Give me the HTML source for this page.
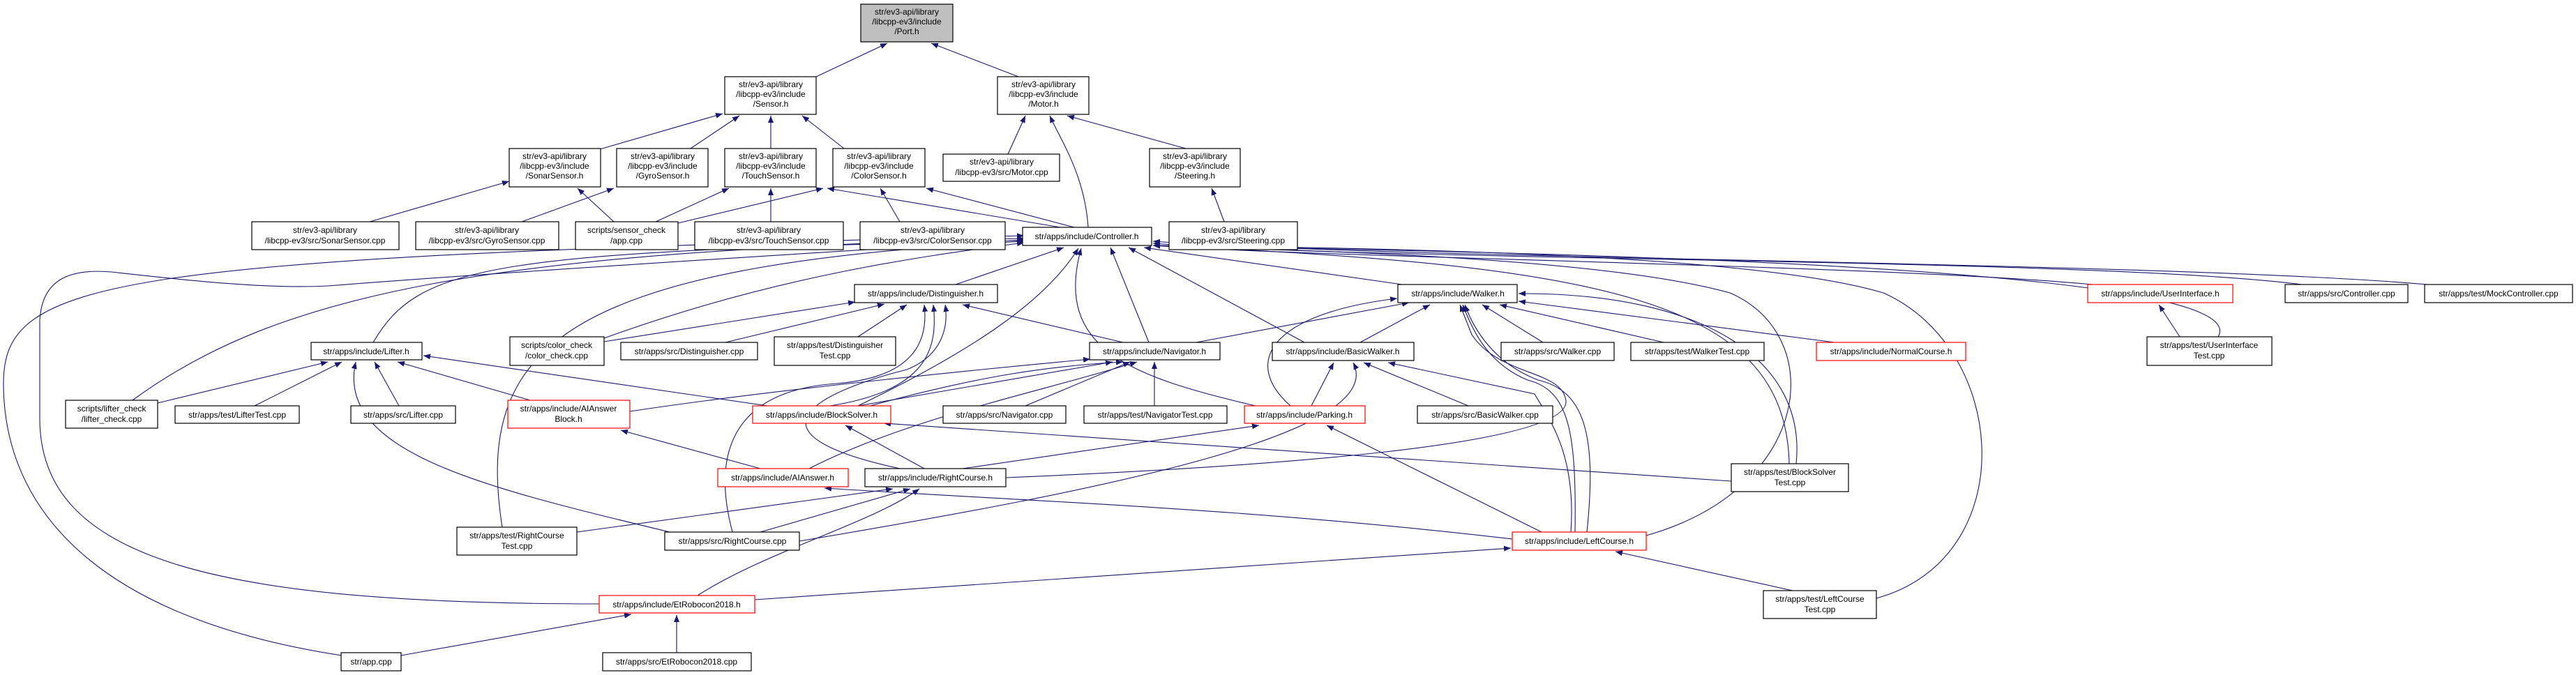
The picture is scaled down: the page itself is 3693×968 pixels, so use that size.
<!DOCTYPE html>
<html><head><meta charset="utf-8"><style>
html,body{margin:0;padding:0;background:#fff;}
svg{display:block}
text{font-family:"Liberation Sans",sans-serif;font-size:12px;fill:#000;text-anchor:middle}
.b{fill:#fff;stroke:#000;stroke-width:1.2}
.r{fill:#fff;stroke:#ff0000;stroke-width:1.2}
.g{fill:#bfbfbf;stroke:#000;stroke-width:1.2}
path.e{fill:none;stroke:#191970;stroke-width:1.1;marker-end:url(#a)}
</style></head><body>
<svg width="3693" height="968" viewBox="0 0 3693 968" xmlns="http://www.w3.org/2000/svg">
<defs><marker id="a" markerUnits="userSpaceOnUse" markerWidth="11" markerHeight="8" refX="10" refY="4" orient="auto"><path d="M0,0 L10,4 L0,8 z" fill="#191970"/></marker></defs>

<g>
<path class="e" d="M1170,110 L1272,62"/>
<path class="e" d="M1460,110 L1335,62"/>
<path class="e" d="M860,214 L1036,163"/>
<path class="e" d="M990,213 L1060,166"/>
<path class="e" d="M1105,213 L1105,166"/>
<path class="e" d="M1210,213 L1150,166"/>
<path class="e" d="M1445,221 L1470,166"/>
<path class="e" d="M1700,213 L1530,166"/>
<path class="e" d="M1560,326 C1555,250 1520,200 1505,166"/>
<path class="e" d="M530,318 L730,260"/>
<path class="e" d="M748,318 L880,270"/>
<path class="e" d="M880,318 L828,270"/>
<path class="e" d="M940,318 L1045,270"/>
<path class="e" d="M972,320 L1180,270"/>
<path class="e" d="M1105,318 L1105,270"/>
<path class="e" d="M1290,318 L1262,270"/>
<path class="e" d="M1520,326 L1186,270"/>
<path class="e" d="M1540,326 L1328,270"/>
<path class="e" d="M1755,318 L1737,270"/>

<path class="e" d="M1370,408 L1525,355"/>
<path class="e" d="M1647,491 L1592,355"/>
<path class="e" d="M1870,491 L1618,355"/>
<path class="e" d="M2010,408 L1640,355"/>
<path class="e" d="M3000,408 C2700,380 1900,370 1653,352"/>
<path class="e" d="M3300,408 C3000,370 2000,375 1653,349"/>
<path class="e" d="M3480,408 C3100,375 2000,372 1653,346"/>
<path class="e" d="M3180,483 C3240,380 2200,362 1653,352"/>
<path class="e" d="M2565,665 C2560,430 2300,380 1653,352"/>
<path class="e" d="M2360,768 C2600,700 2620,480 2480,420 C2300,370 1900,360 1653,352"/>
<path class="e" d="M2690,858 C2900,800 2880,500 2700,420 C2500,360 1900,355 1653,352"/>
<path class="e" d="M1800,582 C1620,540 1510,500 1550,356"/>
<path class="e" d="M1230,582 C1400,500 1500,430 1546,356"/>
<path class="e" d="M535,491 C600,380 700,360 1468,345"/>
<path class="e" d="M866,485 C1100,400 1300,370 1468,348"/>
<path class="e" d="M190,574 C400,420 700,360 1468,342"/>
<path class="e" d="M720,756 C680,500 800,380 1468,346"/>
<path class="e" d="M859,866 C300,866 57,800 57,600 L57,460 C60,400 100,385 160,390 C250,400 380,415 470,410 C600,400 800,385 1468,344"/>
<path class="e" d="M490,940 C100,880 5,700 5,550 C5,400 150,370 1468,338"/>

<path class="e" d="M866,490 L1226,433"/>
<path class="e" d="M1040,491 L1268,436"/>
<path class="e" d="M1230,483 L1300,437"/>
<path class="e" d="M1610,491 L1380,437"/>
<path class="e" d="M1190,582 C1330,560 1345,500 1338,437"/>
<path class="e" d="M1050,763 C1020,650 1050,560 1200,550 C1320,540 1330,480 1325,437"/>
<path class="e" d="M1290,672 C1050,620 1180,560 1300,530 C1350,510 1360,470 1355,437"/>

<path class="e" d="M1715,491 L2020,434"/>
<path class="e" d="M1850,582 C1780,520 1820,450 2003,428"/>
<path class="e" d="M1950,491 L2050,437"/>
<path class="e" d="M2212,491 L2125,437"/>
<path class="e" d="M2385,491 L2150,437"/>
<path class="e" d="M2630,491 L2177,432"/>
<path class="e" d="M2575,665 C2590,520 2450,420 2177,421"/>
<path class="e" d="M2258,763 C2260,620 2250,560 2190,545 C2130,520 2110,470 2097,437"/>
<path class="e" d="M2275,763 C2290,620 2270,560 2205,545 C2140,520 2112,470 2100,437"/>
<path class="e" d="M1442,685 C1800,670 2250,640 2245,575 C2240,530 2150,540 2110,480 L2093,437"/>

<path class="e" d="M226,578 L470,519"/>
<path class="e" d="M365,582 L490,519"/>
<path class="e" d="M572,582 L537,519"/>
<path class="e" d="M760,574 L570,519"/>
<path class="e" d="M1100,582 L607,510"/>
<path class="e" d="M960,763 C700,700 480,650 510,519"/>

<path class="e" d="M903,590 C1100,560 1400,530 1563,515"/>
<path class="e" d="M1230,582 L1595,519"/>
<path class="e" d="M1240,584 C1400,540 1500,525 1610,519"/>
<path class="e" d="M1470,582 L1620,519"/>
<path class="e" d="M1655,582 L1655,519"/>
<path class="e" d="M1160,672 C1300,600 1500,560 1630,519"/>

<path class="e" d="M1880,582 L1912,520"/>
<path class="e" d="M2105,582 L1955,520"/>
<path class="e" d="M2252,763 C2260,650 2220,600 2200,565 L1990,520"/>
<path class="e" d="M1146,776 C1600,700 1990,620 1940,520"/>

<path class="e" d="M3125,483 L3095,437"/>
<path class="e" d="M1380,672 L1805,610"/>
<path class="e" d="M2210,763 L1902,610"/>
<path class="e" d="M1325,672 L1212,610"/>
<path class="e" d="M2482,690 L1267,607"/>
<path class="e" d="M1090,672 L890,617"/>
<path class="e" d="M2168,773 C1800,730 1500,720 1182,700"/>
<path class="e" d="M827,763 L1280,701"/>
<path class="e" d="M1090,763 L1305,701"/>
<path class="e" d="M1000,854 C1100,790 1250,750 1318,701"/>
<path class="e" d="M1082,860 L2166,786"/>
<path class="e" d="M2570,847 L2316,791"/>
<path class="e" d="M575,940 L905,881"/>
<path class="e" d="M970,936 L970,882"/>
</g>

<rect class="g" x="1234" y="6" width="132" height="54"/><text x="1300" y="21">str/ev3-api/library</text><text x="1300" y="35">/libcpp-ev3/include</text><text x="1300" y="49">/Port.h</text>
<rect class="b" x="1039" y="110" width="131" height="54"/><text x="1105" y="125">str/ev3-api/library</text><text x="1105" y="139">/libcpp-ev3/include</text><text x="1105" y="153">/Sensor.h</text>
<rect class="b" x="1430" y="110" width="131" height="54"/><text x="1496" y="125">str/ev3-api/library</text><text x="1496" y="139">/libcpp-ev3/include</text><text x="1496" y="153">/Motor.h</text>
<rect class="b" x="730" y="213" width="131" height="55"/><text x="795" y="228">str/ev3-api/library</text><text x="795" y="242">/libcpp-ev3/include</text><text x="795" y="256">/SonarSensor.h</text>
<rect class="b" x="884" y="213" width="131" height="55"/><text x="950" y="228">str/ev3-api/library</text><text x="950" y="242">/libcpp-ev3/include</text><text x="950" y="256">/GyroSensor.h</text>
<rect class="b" x="1039" y="213" width="131" height="55"/><text x="1105" y="228">str/ev3-api/library</text><text x="1105" y="242">/libcpp-ev3/include</text><text x="1105" y="256">/TouchSensor.h</text>
<rect class="b" x="1194" y="213" width="132" height="55"/><text x="1260" y="228">str/ev3-api/library</text><text x="1260" y="242">/libcpp-ev3/include</text><text x="1260" y="256">/ColorSensor.h</text>
<rect class="b" x="1352" y="221" width="167" height="39"/><text x="1436" y="236">str/ev3-api/library</text><text x="1436" y="251">/libcpp-ev3/src/Motor.cpp</text>
<rect class="b" x="1648" y="213" width="130" height="55"/><text x="1713" y="228">str/ev3-api/library</text><text x="1713" y="242">/libcpp-ev3/include</text><text x="1713" y="256">/Steering.h</text>

<rect class="b" x="361" y="318" width="211" height="40"/><text x="466" y="334">str/ev3-api/library</text><text x="466" y="349">/libcpp-ev3/src/SonarSensor.cpp</text>
<rect class="b" x="596" y="318" width="205" height="40"/><text x="698" y="334">str/ev3-api/library</text><text x="698" y="349">/libcpp-ev3/src/GyroSensor.cpp</text>
<rect class="b" x="825" y="318" width="147" height="40"/><text x="898" y="334">scripts/sensor_check</text><text x="898" y="349">/app.cpp</text>
<rect class="b" x="996" y="318" width="213" height="40"/><text x="1102" y="334">str/ev3-api/library</text><text x="1102" y="349">/libcpp-ev3/src/TouchSensor.cpp</text>
<rect class="b" x="1233" y="318" width="208" height="40"/><text x="1337" y="334">str/ev3-api/library</text><text x="1337" y="349">/libcpp-ev3/src/ColorSensor.cpp</text>
<rect class="b" x="1466" y="326" width="185" height="26"/><text x="1558" y="343">str/apps/include/Controller.h</text>
<rect class="b" x="1676" y="318" width="184" height="40"/><text x="1768" y="334">str/ev3-api/library</text><text x="1768" y="349">/libcpp-ev3/src/Steering.cpp</text>

<rect class="b" x="1225" y="408" width="205" height="26"/><text x="1327" y="425">str/apps/include/Distinguisher.h</text>
<rect class="b" x="2004" y="408" width="171" height="26"/><text x="2090" y="425">str/apps/include/Walker.h</text>
<rect class="r" x="2993" y="408" width="208" height="26"/><text x="3097" y="425">str/apps/include/UserInterface.h</text>
<rect class="b" x="3276" y="408" width="176" height="26"/><text x="3364" y="425">str/apps/src/Controller.cpp</text>
<rect class="b" x="3476" y="408" width="212" height="26"/><text x="3582" y="425">str/apps/test/MockController.cpp</text>

<rect class="b" x="446" y="491" width="159" height="25"/><text x="525" y="508">str/apps/include/Lifter.h</text>
<rect class="b" x="731" y="483" width="135" height="41"/><text x="798" y="499">scripts/color_check</text><text x="798" y="514">/color_check.cpp</text>
<rect class="b" x="890" y="491" width="196" height="25"/><text x="988" y="508">str/apps/src/Distinguisher.cpp</text>
<rect class="b" x="1110" y="483" width="174" height="41"/><text x="1197" y="499">str/apps/test/Distinguisher</text><text x="1197" y="514">Test.cpp</text>
<rect class="b" x="1562" y="491" width="187" height="25"/><text x="1655" y="508">str/apps/include/Navigator.h</text>
<rect class="b" x="1824" y="491" width="203" height="26"/><text x="1925" y="508">str/apps/include/BasicWalker.h</text>
<rect class="b" x="2152" y="491" width="162" height="26"/><text x="2233" y="508">str/apps/src/Walker.cpp</text>
<rect class="b" x="2338" y="491" width="191" height="26"/><text x="2433" y="508">str/apps/test/WalkerTest.cpp</text>
<rect class="r" x="2604" y="491" width="214" height="26"/><text x="2711" y="508">str/apps/include/NormalCourse.h</text>
<rect class="b" x="3078" y="483" width="179" height="41"/><text x="3167" y="499">str/apps/test/UserInterface</text><text x="3167" y="514">Test.cpp</text>

<rect class="b" x="94" y="574" width="132" height="40"/><text x="160" y="590">scripts/lifter_check</text><text x="160" y="605">/lifter_check.cpp</text>
<rect class="b" x="251" y="582" width="178" height="25"/><text x="340" y="599">str/apps/test/LifterTest.cpp</text>
<rect class="b" x="503" y="582" width="150" height="25"/><text x="578" y="599">str/apps/src/Lifter.cpp</text>
<rect class="r" x="728" y="574" width="175" height="40"/><text x="815" y="590">str/apps/include/AIAnswer</text><text x="815" y="605">Block.h</text>
<rect class="r" x="1079" y="582" width="198" height="25"/><text x="1178" y="599">str/apps/include/BlockSolver.h</text>
<rect class="b" x="1352" y="582" width="176" height="25"/><text x="1440" y="599">str/apps/src/Navigator.cpp</text>
<rect class="b" x="1554" y="582" width="205" height="25"/><text x="1656" y="599">str/apps/test/NavigatorTest.cpp</text>
<rect class="r" x="1784" y="582" width="173" height="25"/><text x="1870" y="599">str/apps/include/Parking.h</text>
<rect class="b" x="2032" y="582" width="194" height="25"/><text x="2129" y="599">str/apps/src/BasicWalker.cpp</text>

<rect class="b" x="2482" y="665" width="168" height="40"/><text x="2566" y="681">str/apps/test/BlockSolver</text><text x="2566" y="696">Test.cpp</text>
<rect class="r" x="1029" y="672" width="187" height="26"/><text x="1122" y="689">str/apps/include/AIAnswer.h</text>
<rect class="b" x="1240" y="672" width="202" height="26"/><text x="1341" y="689">str/apps/include/RightCourse.h</text>
<rect class="b" x="655" y="756" width="172" height="40"/><text x="741" y="772">str/apps/test/RightCourse</text><text x="741" y="787">Test.cpp</text>
<rect class="b" x="953" y="763" width="193" height="26"/><text x="1050" y="780">str/apps/src/RightCourse.cpp</text>
<rect class="r" x="2168" y="763" width="192" height="26"/><text x="2264" y="780">str/apps/include/LeftCourse.h</text>
<rect class="b" x="2528" y="847" width="162" height="40"/><text x="2609" y="863">str/apps/test/LeftCourse</text><text x="2609" y="878">Test.cpp</text>
<rect class="r" x="859" y="854" width="223" height="25"/><text x="970" y="871">str/apps/include/EtRobocon2018.h</text>
<rect class="b" x="489" y="936" width="86" height="26"/><text x="532" y="953">str/app.cpp</text>
<rect class="b" x="864" y="936" width="213" height="26"/><text x="970" y="953">str/apps/src/EtRobocon2018.cpp</text>
</svg>
</body></html>
